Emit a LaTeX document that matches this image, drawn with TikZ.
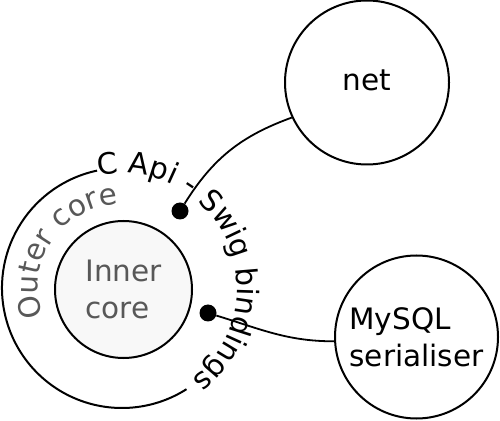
\documentclass[tikz,border=0pt]{standalone}
\usepackage{fontspec}
\setmainfont{DejaVu Sans}
\usetikzlibrary{decorations.text}
\newcommand{\bigfont}{\fontsize{29.5}{37}\selectfont}
\definecolor{coretext}{HTML}{585858}
\definecolor{corefill}{HTML}{F8F8F8}
\tikzset{
	module/.style={circle, draw, line width=2pt, minimum size=164pt, inner sep=0pt, align=left, font=\bigfont},
	dot/.style={circle, fill, inner sep=0pt, minimum size=17pt},
	link/.style={line width=1.8pt},
}
\begin{document}
\begin{tikzpicture}[x=1pt,y=1pt]
			\useasboundingbox (0,0) rectangle (500,420);
			\coordinate (centre) at (122,132);
			\node[module, minimum size=137pt, fill=corefill, text=coretext] (inner) at (123.5,130.5) {Inner\\core};
			\node[module] (netmod) at (367,337.5) {\raisebox{4pt}{net}};
			\node[module, minimum size=163pt] (mysql) at (416.5,83) {MySQL\\serialiser};
			% outer core ring and its labels
			\draw[line width=2pt] (centre) ++(102:120) arc[start angle=102, end angle=302.5, radius=120];
			\path[decorate, decoration={text along path, text color=coretext, text={|\bigfont|Outer core}}]
				(centre) ++(200:84) arc[start angle=200, end angle=60, radius=84];
			\path[decorate, decoration={text along path, text={|\bigfont|C Api - Swig bindings}}]
				(centre) ++(102:115) arc[start angle=102, end angle=-80, radius=115];
			% bindings
			\node[dot] (capi) at (180,209) {};
			\node[dot] (swig) at (208,107) {};
			\draw[link] (capi) to[out=58,in=200] (netmod.205);
			\draw[link] (swig) to[out=-17,in=180] (mysql.183);
		\end{tikzpicture}
\end{document}
